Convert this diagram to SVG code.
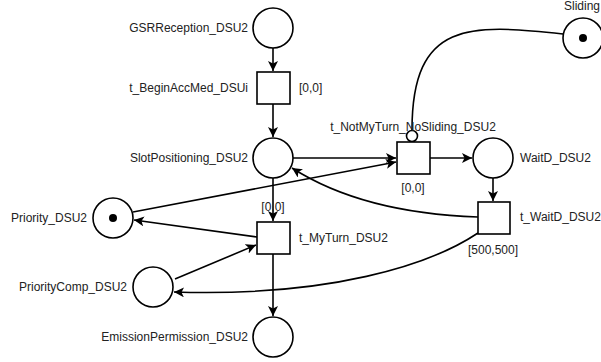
<svg xmlns="http://www.w3.org/2000/svg" width="601" height="362" viewBox="0 0 601 362">
<style>
.pl{fill:#fff;stroke:#000;stroke-width:1.6}
.tr{fill:#fff;stroke:#000;stroke-width:1.6}
.tk{fill:#000}
.e{fill:none;stroke:#000;stroke-width:1.6}
text{font-family:"Liberation Sans",Arial,sans-serif;font-size:12px;fill:#222}
.r{text-anchor:end}
.m{text-anchor:middle}
</style>
<defs>
<marker id="a" viewBox="0 0 10 10" refX="10" refY="5" markerWidth="10" markerHeight="10" markerUnits="userSpaceOnUse" orient="auto">
<path d="M0,0 L10,5 L0,10 L2.5,5 z" fill="#000"/>
</marker>
</defs>
<rect width="601" height="362" fill="#fff"/>
<g id="connectors">
<path class="e" d="M273 48 L273 71" marker-end="url(#a)"/>
<path class="e" d="M273 104 L273 137" marker-end="url(#a)"/>
<path class="e" d="M293 158 L396 158" marker-end="url(#a)"/>
<path class="e" d="M133 212 L396 162" marker-end="url(#a)"/>
<path class="e" d="M430 158 L472 158" marker-end="url(#a)"/>
<path class="e" d="M493 178 L493 201" marker-end="url(#a)"/>
<path class="e" d="M478 217 C420 215 350 205 292 168" marker-end="url(#a)"/>
<path class="e" d="M478 233 C430 265 330 297 174 292" marker-end="url(#a)"/>
<path class="e" d="M273 178 L273 221" marker-end="url(#a)"/>
<path class="e" d="M257 237 L134 220" marker-end="url(#a)"/>
<path class="e" d="M175 279 L256 245" marker-end="url(#a)"/>
<path class="e" d="M273 254 L273 316" marker-end="url(#a)"/>
<path class="e" d="M563 34 C470 24 412 20 412 130"/>
<circle class="pl" cx="412" cy="136" r="5.5"/>
</g>
<g id="GSRReception_DSU2"><circle class="pl" cx="273" cy="28" r="20"/><text class="r" x="248" y="32">GSRReception_DSU2</text></g>
<g id="t_BeginAccMed_DSUi"><rect class="tr" x="257" y="72" width="33" height="32"/><text class="r" x="248" y="92">t_BeginAccMed_DSUi</text><text x="299" y="92">[0,0]</text></g>
<g id="SlotPositioning_DSU2"><circle class="pl" cx="273" cy="158" r="20"/><text class="r" x="248" y="162">SlotPositioning_DSU2</text></g>
<g id="t_NotMyTurn_NoSliding_DSU2"><rect class="tr" x="397" y="142" width="33" height="32"/><text class="m" x="413" y="131">t_NotMyTurn_NoSliding_DSU2</text><text class="m" x="413" y="192">[0,0]</text></g>
<g id="WaitD_DSU2"><circle class="pl" cx="493" cy="158" r="20"/><text x="520" y="162">WaitD_DSU2</text></g>
<g id="Sliding"><circle class="pl" cx="583" cy="38" r="20"/><circle class="tk" cx="583" cy="38" r="4"/><text x="600" y="10" class="r">Sliding</text></g>
<g id="t_WaitD_DSU2"><rect class="tr" x="478" y="202" width="32" height="32"/><text x="520" y="221">t_WaitD_DSU2</text><text class="m" x="493" y="254">[500,500]</text></g>
<g id="t_MyTurn_DSU2"><rect class="tr" x="257" y="222" width="33" height="32"/><text x="299" y="242">t_MyTurn_DSU2</text><text class="m" x="273" y="211">[0,0]</text></g>
<g id="Priority_DSU2"><circle class="pl" cx="113" cy="218" r="20"/><circle class="tk" cx="113" cy="218" r="4"/><text class="r" x="87" y="222">Priority_DSU2</text></g>
<g id="PriorityComp_DSU2"><circle class="pl" cx="153" cy="287" r="20"/><text class="r" x="127" y="291">PriorityComp_DSU2</text></g>
<g id="EmissionPermission_DSU2"><circle class="pl" cx="273" cy="337" r="20"/><text class="r" x="248" y="341">EmissionPermission_DSU2</text></g>
</svg>
